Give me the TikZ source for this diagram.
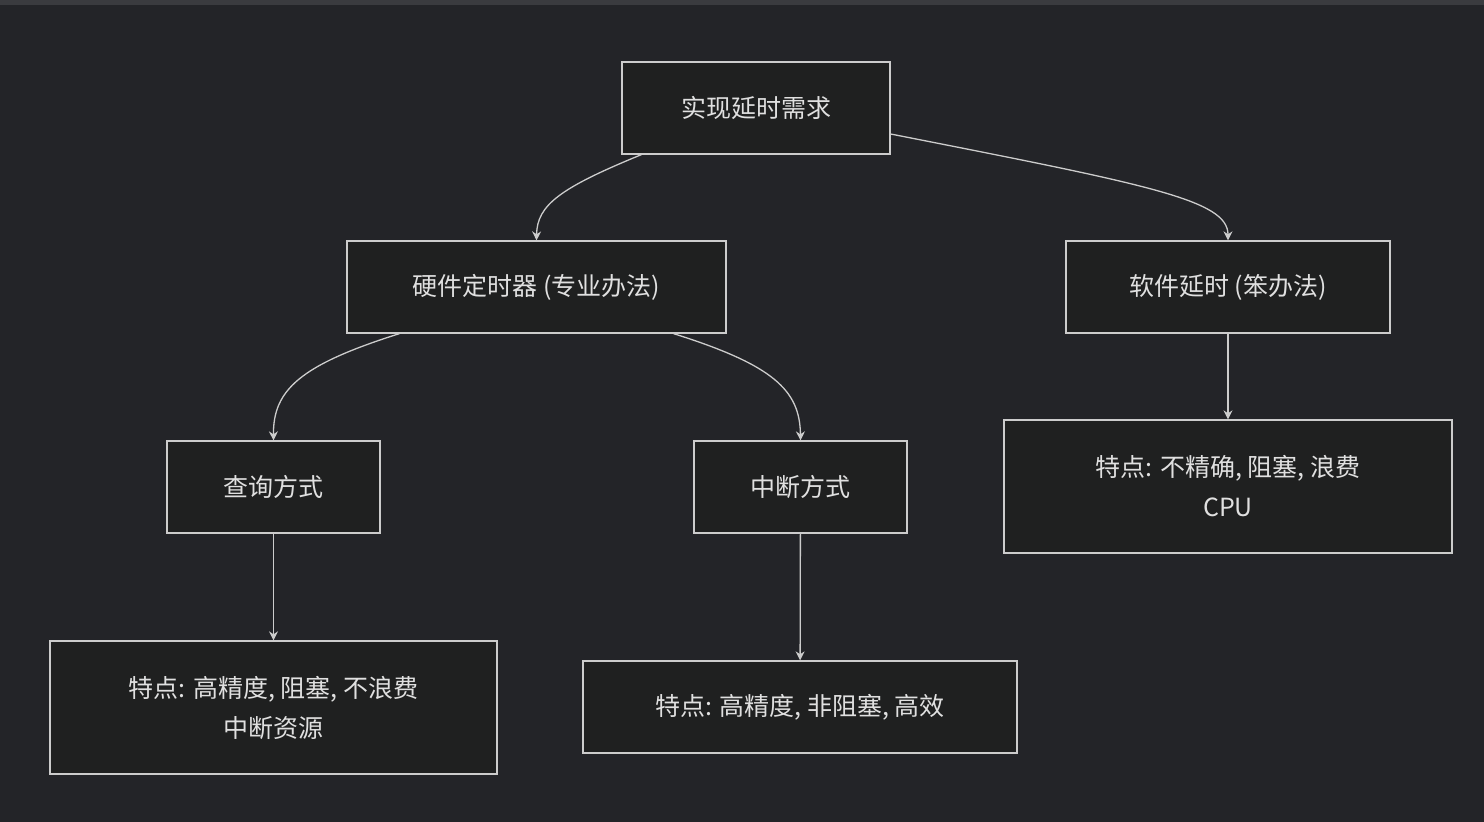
\documentclass[tikz,border=0pt]{standalone}
\usepackage{fontspec}
\setmainfont{Noto Sans CJK SC}
\usetikzlibrary{arrows.meta,positioning}
\definecolor{bgdark}{HTML}{232428}
\definecolor{bgtop}{HTML}{3A3B3F}
\definecolor{boxfill}{HTML}{1F2020}
\definecolor{boxline}{HTML}{CCCCCC}
\definecolor{textlight}{HTML}{E0E0E0}
\tikzset{
	stepbox/.style={draw=boxline,fill=boxfill,text=textlight,line width=1.3pt,align=center,inner sep=0pt,
		font=\fontsize{25}{40}\selectfont},
	flow/.style={-{Stealth[width=9pt,length=9pt]},draw=boxline,line width=1.3pt}
}
\begin{document}
\begin{tikzpicture}[x=1pt,y=-1pt]
	\fill[bgdark] (0,0) rectangle (1484,822);
	\fill[bgtop] (0,0) rectangle (1484,5);
	\useasboundingbox (0,0) rectangle (1484,822);

	%%top level
	\node[stepbox,minimum width=268pt,minimum height=92pt] (need) at (756,108) {实现延时需求};

	%%two ways
	\node[stepbox,minimum width=379pt,minimum height=92pt] (hw) at (536.5,287) {硬件定时器 (专业办法)};
	\node[stepbox,minimum width=324pt,minimum height=92pt] (sw) at (1228,287) {软件延时 (笨办法)};

	%%hardware modes
	\node[stepbox,minimum width=213pt,minimum height=92pt] (poll) at (273.5,487) {查询方式};
	\node[stepbox,minimum width=213pt,minimum height=92pt] (irq) at (800.5,487) {中断方式};

	%%features
	\node[stepbox,minimum width=448pt,minimum height=133pt] (swfeat) at (1228,486.5) {特点: 不精确, 阻塞, 浪费\\CPU};
	\node[stepbox,minimum width=447pt,minimum height=133pt] (pollfeat) at (273.5,707.5) {特点: 高精度, 阻塞, 不浪费\\中断资源};
	\node[stepbox,minimum width=434pt,minimum height=92pt] (irqfeat) at (800,707) {特点: 高精度, 非阻塞, 高效};

	%%edges
	\draw[flow] (need.south west) ++(20,0) .. controls (560,188) and (537,205) .. (hw.north);
	\draw[flow] (need.east |- 0,134) .. controls (1150,185) and (1228,200) .. (sw.north);
	\draw[flow] (hw.south west) ++(53,0) .. controls (300,365) and (273,390) .. (poll.north);
	\draw[flow] (hw.south east) ++(-53,0) .. controls (773,365) and (800,390) .. (irq.north);
	\draw[flow] (sw) -- (swfeat);
	\draw[flow] (poll) -- (pollfeat);
	\draw[flow] (irq) -- (irqfeat);
\end{tikzpicture}
\end{document}
